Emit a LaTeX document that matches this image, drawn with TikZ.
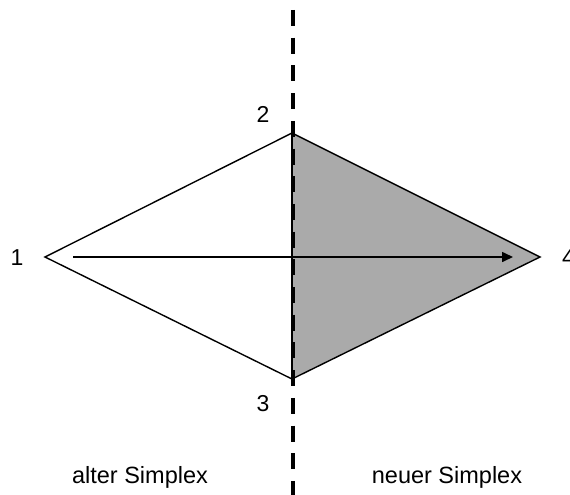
\documentclass[tikz,border=0pt]{standalone}
\usepackage{fontspec}
\setmainfont{Liberation Sans}
\usetikzlibrary{arrows.meta}
\tikzset{
  edge/.style={line width=1.4pt, line join=miter},
  lbl/.style={inner sep=0pt, font=\fontsize{23}{27}\selectfont},
  captext/.style={inner sep=0pt, font=\fontsize{23.5}{28}\selectfont},
  divider/.style={line width=3.8pt, dash pattern=on 16pt off 11.7pt},
  move/.style={line width=1.6pt, -{Triangle[length=11pt,width=10pt]}}
}
\begin{document}
\begin{tikzpicture}[x=1pt,y=-1pt]
\useasboundingbox (0,0) rectangle (570,495);
\coordinate (v1) at (45,257);
\coordinate (v2) at (292,133);
\coordinate (v3) at (292,379);
\coordinate (v4) at (540,257);
\fill[fill={rgb,255:red,170;green,170;blue,170}] (v2) -- (v4) -- (v3) -- cycle;
\draw[edge] (v1) -- (v2) -- (v4) -- (v3) -- cycle;
\draw[edge] (v2) -- (v3);
\coordinate (top) at (293,10);
\coordinate (bot) at (293,497);
\draw[divider] (top) -- (bot);
\coordinate (a0) at (73,257);
\coordinate (a1) at (513,257);
\draw[move] (a0) -- (a1);
\node[lbl] (l1) at (17,258) {1};
\node[lbl] (l2) at (263,114) {2};
\node[lbl] (l3) at (263,404) {3};
\node[lbl, anchor=west] (l4) at (562,258) {4};
\node[captext, anchor=base] (alt) at (140,483) {alter Simplex};
\node[captext, anchor=base] (neu) at (447,483) {neuer Simplex};
\end{tikzpicture}
\end{document}
